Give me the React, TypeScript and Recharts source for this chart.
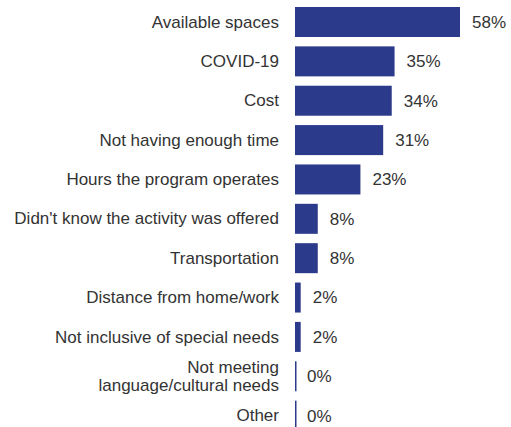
import { BarChart, Bar, XAxis, YAxis, LabelList } from 'recharts';

const categories = [
  'Available spaces',
  'COVID-19',
  'Cost',
  'Not having enough time',
  'Hours the program operates',
  "Didn't know the activity was offered",
  'Transportation',
  'Distance from home/work',
  'Not inclusive of special needs',
  'Not meeting\nlanguage/cultural needs',
  'Other',
];

const shares = [58, 35, 34, 31, 23, 8, 8, 2, 2, 0, 0];

const rows = categories.map((name, i) => ({ name, share: shares[i] }));

const FONT = '"Liberation Sans", Arial, Helvetica, sans-serif';
const TEXT = '#333333';
const BAR = '#2b3a8a';

function CategoryTick({ x, y, payload }: any) {
  const lines = String(payload.value).split('\n');
  const lineHeight = 18;
  const start = -((lines.length - 1) * lineHeight) / 2;
  return (
    <text textAnchor="end" fill={TEXT} fontSize={17} fontFamily={FONT}>
      {lines.map((line, i) => (
        <tspan key={i} x={x} y={y + start + i * lineHeight} dy="0.35em">
          {line}
        </tspan>
      ))}
    </text>
  );
}

function ValueLabel({ x, y, width, height, value }: any) {
  return (
    <text
      x={x + width + 12}
      y={y + height / 2}
      dy="0.35em"
      textAnchor="start"
      fill={TEXT}
      fontSize={17}
      fontWeight="normal"
      fontFamily={FONT}
    >
      {`${value}%`}
    </text>
  );
}

// zero-valued bars still show as a thin line at the baseline
function ThinBar({ x, y, width, height, fill }: any) {
  return <rect x={x} y={y} width={Math.max(width, 1.5)} height={height} fill={fill} />;
}

export default function App() {
  return (
    <div style={{ position: 'absolute', left: 0, top: 0, width: 511, height: 427, overflow: 'hidden', background: '#fff' }}>
      <BarChart
        width={511}
        height={435}
        data={rows}
        layout="vertical"
        margin={{ top: 2, right: 51, bottom: 0, left: 0 }}
      >
        <XAxis type="number" domain={[0, 'dataMax']} hide />
        <YAxis
          type="category"
          dataKey="name"
          width={295}
          axisLine={false}
          tickLine={false}
          tickSize={0}
          tickMargin={16}
          interval={0}
          tick={<CategoryTick />}
        />
        <Bar dataKey="share" fill={BAR} barSize={30} shape={<ThinBar />} isAnimationActive={false}>
          <LabelList dataKey="share" content={<ValueLabel />} />
        </Bar>
      </BarChart>
    </div>
  );
}
